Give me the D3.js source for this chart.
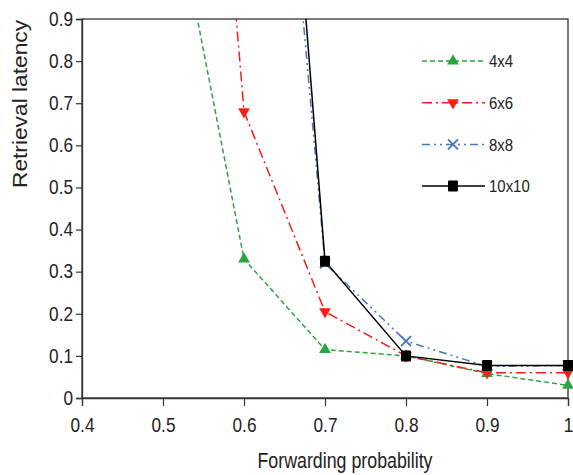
<!DOCTYPE html>
<html>
<head>
<meta charset="utf-8">
<script src="https://cdn.jsdelivr.net/npm/d3@7"></script>
<style>
  body { margin: 0; background: #fff; }
  text { font-family: "Liberation Sans", Arial, sans-serif; fill: #222; }
</style>
</head>
<body>
<div id="root"></div>
<script>
const w = 573;
const h = 475;
const marginLeft = 82;
const marginRight = 5;
const marginTop = 19;
const marginBottom = 77;

const probs = [0.5, 0.6, 0.7, 0.8, 0.9, 1.0];
const latency4 = [1.32, 0.33, 0.115, 0.1, 0.058, 0.03];
const latency6 = [3.0, 0.68, 0.205, 0.1, 0.06, 0.06];
const latency8 = [null, 2.47, 0.32, 0.135, 0.075, 0.077];
const latency10 = [null, 2.77, 0.325, 0.1, 0.077, 0.077];
const seriesNames = ["4x4", "6x6", "8x8", "10x10"];
const xTicks = [0.4, 0.5, 0.6, 0.7, 0.8, 0.9, 1];
const yTicks = [0, 0.1, 0.2, 0.3, 0.4, 0.5, 0.6, 0.7, 0.8, 0.9];

const series = [
  { name: seriesNames[0], values: latency4, color: "#2aa541", dash: "5,3", marker: "triUp" },
  { name: seriesNames[1], values: latency6, color: "#ff1a1a", dash: "10,4,2,4", marker: "triDown" },
  { name: seriesNames[2], values: latency8, color: "#4a76bd", dash: "8,4,2,4,2,4", marker: "cross" },
  { name: seriesNames[3], values: latency10, color: "#000000", dash: null, marker: "square" },
];

const narrow = 0.82;

const svg = d3.select("#root").append("svg").attr("width", w).attr("height", h);

const x = d3.scaleLinear().domain([0.4, 1]).range([marginLeft, w - marginRight]);
const y = d3.scaleLinear().domain([0, 0.9]).range([h - marginBottom, marginTop]);

svg.append("defs").append("clipPath").attr("id", "plot-clip")
  .append("rect")
  .attr("x", x(0.4)).attr("y", y(0.9))
  .attr("width", x(1) - x(0.4) + 8).attr("height", y(0) - y(0.9) + 8);

// frame
svg.append("rect")
  .attr("x", x(0.4)).attr("y", y(0.9))
  .attr("width", x(1) - x(0.4)).attr("height", y(0) - y(0.9))
  .attr("fill", "none").attr("stroke", "#333").attr("stroke-width", 1.3);

const xAxis = svg.append("g")
  .attr("transform", `translate(0,${y(0)})`)
  .call(d3.axisBottom(x).tickValues(xTicks).tickSize(8).tickFormat(d3.format("")));
const yAxis = svg.append("g")
  .attr("transform", `translate(${x(0.4)},0)`)
  .call(d3.axisLeft(y).tickValues(yTicks).tickSize(6).tickFormat(d3.format("")));

[xAxis, yAxis].forEach((g) => {
  g.select(".domain").attr("stroke", "#333").attr("stroke-width", 1.3);
  g.selectAll(".tick line").attr("stroke", "#333").attr("stroke-width", 1.2);
  g.selectAll(".tick text")
    .attr("font-family", "'Liberation Sans', Arial, sans-serif")
    .attr("font-size", 21).attr("fill", "#222")
    .attr("transform", `scale(${narrow},1)`);
});
xAxis.selectAll(".tick text").attr("y", 34).attr("dy", "0");
yAxis.selectAll(".tick text").attr("x", -9 / narrow).attr("dy", "0.3em");

svg.append("text")
  .attr("x", 345).attr("y", 468)
  .attr("text-anchor", "middle").attr("font-size", 22)
  .attr("textLength", 175).attr("lengthAdjust", "spacingAndGlyphs")
  .text("Forwarding probability");

svg.append("text")
  .attr("transform", `translate(27,104) rotate(-90)`)
  .attr("text-anchor", "middle").attr("font-size", 20)
  .attr("textLength", 168).attr("lengthAdjust", "spacingAndGlyphs")
  .attr("fill", "#333")
  .text("Retrieval latency");

function drawMarker(g, type, color) {
  if (type === "triUp") {
    g.append("path").attr("d", d3.symbol(d3.symbolTriangle, 60)()).attr("fill", color);
  } else if (type === "triDown") {
    g.append("path").attr("d", d3.symbol(d3.symbolTriangle, 60)())
      .attr("transform", "rotate(180)").attr("fill", color);
  } else if (type === "cross") {
    g.append("path").attr("d", "M-5,-5L5,5M-5,5L5,-5")
      .attr("stroke", color).attr("stroke-width", 2).attr("fill", "none");
  } else {
    g.append("rect").attr("x", -5).attr("y", -5.5).attr("width", 10).attr("height", 11)
      .attr("rx", 1).attr("fill", color);
  }
}

const plot = svg.append("g").attr("clip-path", "url(#plot-clip)");
const line = d3.line()
  .defined((d) => d[1] !== null)
  .x((d) => x(d[0]))
  .y((d) => y(d[1]));

series.forEach((s) => {
  const pts = probs.map((p, i) => [p, s.values[i]]);
  plot.append("path")
    .datum(pts)
    .attr("d", line)
    .attr("fill", "none")
    .attr("stroke", s.color)
    .attr("stroke-width", 1.5)
    .attr("stroke-dasharray", s.dash);
});

series.forEach((s) => {
  const pts = probs.map((p, i) => [p, s.values[i]]).filter((d) => d[1] !== null && d[1] <= 0.9);
  pts.forEach((d) => {
    const g = svg.append("g").attr("transform", `translate(${x(d[0])},${y(d[1])})`);
    drawMarker(g, s.marker, s.color);
  });
});

// legend
const legend = svg.append("g").attr("transform", "translate(422,61)");
series.forEach((s, i) => {
  const row = legend.append("g").attr("transform", `translate(0,${i * 41.7})`);
  row.append("line")
    .attr("x1", 0).attr("x2", 63).attr("y1", 0).attr("y2", 0)
    .attr("stroke", s.color).attr("stroke-width", 1.5)
    .attr("stroke-dasharray", s.dash);
  const m = row.append("g").attr("transform", "translate(31,0)");
  drawMarker(m, s.marker, s.color);
  row.append("text").attr("transform", "translate(67,0) scale(0.88,1)")
    .attr("dy", "0.36em")
    .attr("font-size", 17).text(s.name);
});
</script>
</body>
</html>
